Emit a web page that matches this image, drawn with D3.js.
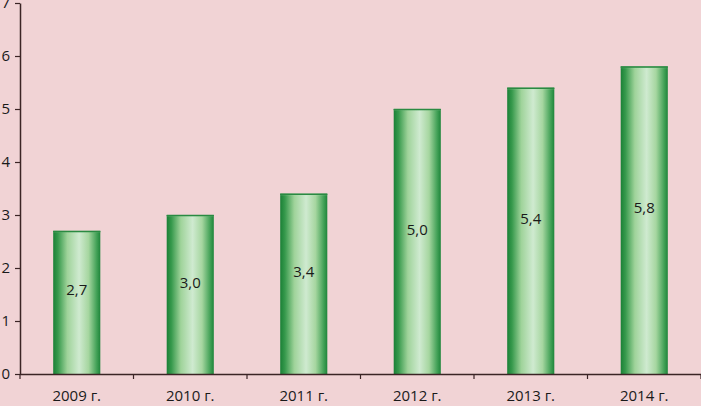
<!DOCTYPE html>
<html><head><meta charset="utf-8">
<script src="https://cdn.jsdelivr.net/npm/d3@7"></script>
<style>html,body{margin:0;padding:0;background:#f1d3d5;}svg{display:block;}</style>
</head><body>
<script>
const categories = ["2009 г.","2010 г.","2011 г.","2012 г.","2013 г.","2014 г."];
const values = [2.7, 3.0, 3.4, 5.0, 5.4, 5.8];
const labels = ["2,7","3,0","3,4","5,0","5,4","5,8"];
const yTicks = [0,1,2,3,4,5,6,7];

const W = 701, H = 406;
const svg = d3.select("body").append("svg").attr("width", W).attr("height", H);
svg.append("rect").attr("width", W).attr("height", H).attr("fill", "#f1d3d5");

const x0 = 20, x1 = 701, yTop = 3, yBot = 374;
const x = d3.scaleBand().domain(categories).range([x0, x1]).paddingInner(0.585).paddingOuter(0.2925);
const y = d3.scaleLinear().domain([0, 7]).range([yBot, yTop]);

const defs = svg.append("defs");
const g = defs.append("linearGradient").attr("id", "barg").attr("x1", 0).attr("x2", 1).attr("y1", 0).attr("y2", 0);
[[0,"#1a8036"],[0.1,"#36994c"],[0.3,"#9fd39a"],[0.55,"#cfead0"],[0.75,"#a6d6a0"],[0.92,"#44a258"],[1,"#1e853a"]]
  .forEach(([o,c]) => g.append("stop").attr("offset", o).attr("stop-color", c));
const gt = defs.append("linearGradient").attr("id", "capg").attr("x1", 0).attr("x2", 0).attr("y1", 0).attr("y2", 1);
[[0,"#2d8f45"],[0.35,"#d7efd4"],[1,"#d7efd4"]].forEach(([o,c]) => gt.append("stop").attr("offset", o).attr("stop-color", c).attr("stop-opacity", o===0?0.6:0));

const bars = svg.append("g");
bars.selectAll("rect.bar").data(values).join("rect").attr("class","bar")
  .attr("x", (d,i) => x(categories[i]))
  .attr("width", x.bandwidth())
  .attr("y", d => y(d))
  .attr("height", d => y(0) - y(d))
  .attr("fill", "url(#barg)");
bars.selectAll("rect.cap").data(values).join("rect").attr("class","cap")
  .attr("x", (d,i) => x(categories[i]))
  .attr("width", x.bandwidth())
  .attr("y", d => y(d))
  .attr("height", 6)
  .attr("fill", "url(#capg)");
bars.selectAll("line.top").data(values).join("line").attr("class","top")
  .attr("x1", (d,i) => x(categories[i])).attr("x2", (d,i) => x(categories[i]) + x.bandwidth())
  .attr("y1", d => y(d) + 0.5).attr("y2", d => y(d) + 0.5)
  .attr("stroke", "#2a8a42").attr("stroke-width", 1.5);

bars.selectAll("text.lbl").data(values).join("text").attr("class","lbl")
  .attr("x", (d,i) => x(categories[i]) + x.bandwidth()/2)
  .attr("y", d => (y(d) + y(0))/2 - 13)
  .attr("text-anchor", "middle").attr("dominant-baseline", "central")
  .attr("font-family", "'Open Sans', sans-serif").attr("font-size", 15)
  .attr("fill", "#1a1a1a")
  .text((d,i) => labels[i]);

const axisColor = "#3b2425";
const yAxis = svg.append("g").attr("transform", `translate(${x0},0)`)
  .call(d3.axisLeft(y).tickValues(yTicks).tickSize(5).tickSizeOuter(0).tickFormat(d3.format("d")));
const xAxis = svg.append("g").attr("transform", `translate(0,${yBot})`);
xAxis.append("line").attr("x1", x0).attr("x2", x1).attr("y1", 0.5).attr("y2", 0.5).attr("stroke", axisColor).attr("stroke-width", 1.5);
const bounds = d3.range(0, categories.length + 1).map(i => x0 + i * (x1 - x0) / categories.length);
xAxis.selectAll("line.t").data(bounds).join("line").attr("class","t")
  .attr("x1", d => d).attr("x2", d => d).attr("y1", 0).attr("y2", 5)
  .attr("stroke", axisColor).attr("stroke-width", 1.2);
xAxis.selectAll("text").data(categories).join("text")
  .attr("x", d => x(d) + x.bandwidth()/2).attr("y", 27)
  .attr("text-anchor", "middle")
  .attr("font-family", "'Open Sans', sans-serif").attr("font-size", 15)
  .attr("fill", "#1a1a1a").text(d => d);

yAxis.select(".domain").attr("stroke", axisColor).attr("stroke-width", 1.5);
yAxis.selectAll(".tick line").attr("stroke", axisColor).attr("stroke-width", 1.2);
yAxis.selectAll(".tick text").attr("font-family", "'Open Sans', sans-serif").attr("font-size", 15).attr("fill", "#1a1a1a").attr("dx", "-2");
</script>
</body></html>
